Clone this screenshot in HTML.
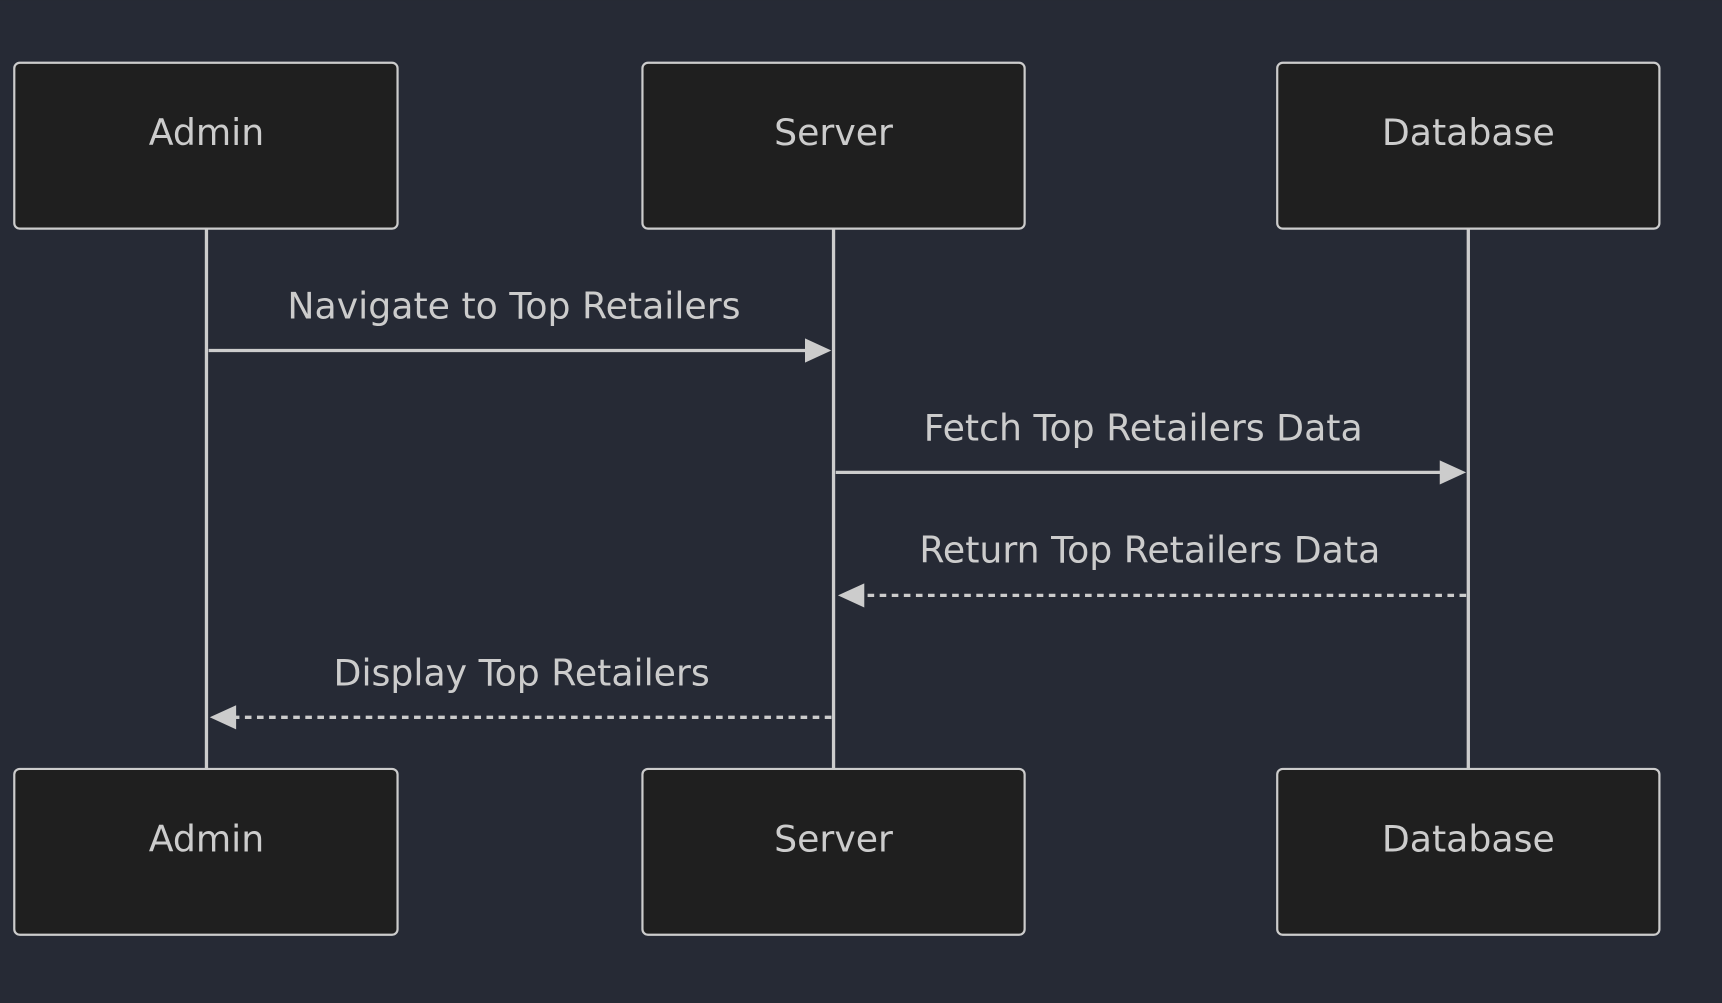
<!DOCTYPE html>
<html><head><style>html,body{margin:0;padding:0;background:#262a35;}svg{display:block}</style></head>
<body>
<svg width="1722" height="1003" viewBox="0 0 1568 913" xmlns="http://www.w3.org/2000/svg" font-family="'DejaVu Sans','Liberation Sans',sans-serif">
<rect width="1568" height="913" fill="#262a35"/>
<g stroke="#cccccc" stroke-width="3">
<line x1="188" y1="208" x2="188" y2="700"/>
<line x1="759" y1="208" x2="759" y2="700"/>
<line x1="1337" y1="208" x2="1337" y2="700"/>
</g>
<g fill="#1f1f1f" stroke="#cccccc" stroke-width="2">
<rect x="13" y="57" width="349" height="151" rx="5"/>
<rect x="585" y="57" width="348" height="151" rx="5"/>
<rect x="1163" y="57" width="348" height="151" rx="5"/>
<rect x="13" y="700" width="349" height="151" rx="5"/>
<rect x="585" y="700" width="348" height="151" rx="5"/>
<rect x="1163" y="700" width="348" height="151" rx="5"/>
</g>
<g fill="#cccccc" font-size="33" text-anchor="middle">
<text x="188" y="132">Admin</text>
<text x="759" y="132">Server</text>
<text x="1337" y="132">Database</text>
<text x="188" y="775">Admin</text>
<text x="759" y="775">Server</text>
<text x="1337" y="775">Database</text>
<text x="468" y="290">Navigate to Top Retailers</text>
<text x="1041" y="401">Fetch Top Retailers Data</text>
<text x="1047" y="512">Return Top Retailers Data</text>
<text x="475" y="624">Display Top Retailers</text>
</g>
<g stroke="#cccccc" stroke-width="3" fill="none">
<line x1="190" y1="319" x2="735" y2="319"/>
<line x1="761" y1="430" x2="1313" y2="430"/>
<line x1="1335" y1="542" x2="785" y2="542" stroke-dasharray="6,5"/>
<line x1="757" y1="653" x2="213" y2="653" stroke-dasharray="6,5"/>
</g>
<g fill="#cccccc">
<polygon points="733,308 757,319 733,330"/>
<polygon points="1311,419 1335,430 1311,441"/>
<polygon points="787,531 763,542 787,553"/>
<polygon points="215,642 191,653 215,664"/>
</g>
</svg>
</body></html>
